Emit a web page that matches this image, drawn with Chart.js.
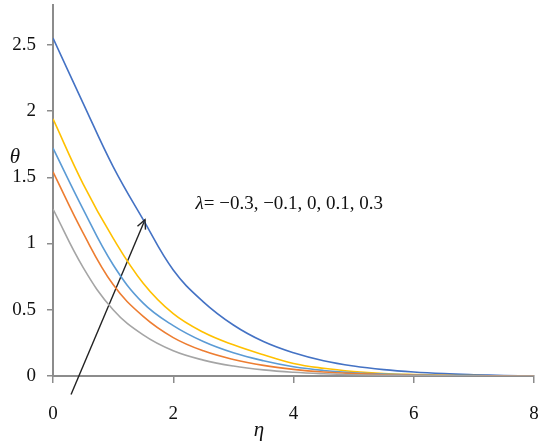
<!DOCTYPE html>
<html>
<head>
<meta charset="utf-8">
<script src="https://cdn.jsdelivr.net/npm/chart.js@4.4.0/dist/chart.umd.min.js"></script>
<style>
  body { margin: 0; background: #fff; }
  #wrap { width: 550px; height: 448px; }
</style>
</head>
<body>
<div id="wrap"><canvas id="thetaChart" width="550" height="448"></canvas></div>
<script>
// Temperature profiles theta(eta) for several lambda values
const eta = [0, 0.5, 1, 1.5, 2, 2.5, 3, 3.5, 4, 4.5, 5, 5.5, 6, 6.5, 7, 7.5, 8];
const thetaGray   = [1.26, 0.82, 0.50, 0.31, 0.19, 0.12, 0.075, 0.046, 0.028, 0.017, 0.01, 0.006, 0.004, 0.002, 0.001, 0, 0];
const thetaOrange = [1.54, 1.08, 0.69, 0.45, 0.29, 0.19, 0.125, 0.08, 0.05, 0.03, 0.018, 0.01, 0.006, 0.003, 0.002, 0.001, 0];
const thetaLtBlue = [1.72, 1.26, 0.84, 0.55, 0.38, 0.26, 0.175, 0.115, 0.07, 0.042, 0.025, 0.014, 0.008, 0.004, 0.002, 0.001, 0];
const thetaYellow = [1.94, 1.45, 1.04, 0.70, 0.47, 0.33, 0.235, 0.16, 0.095, 0.058, 0.034, 0.019, 0.011, 0.006, 0.003, 0.001, 0];
const thetaBlue   = [2.55, 2.06, 1.58, 1.18, 0.80, 0.56, 0.385, 0.26, 0.175, 0.115, 0.075, 0.048, 0.03, 0.018, 0.01, 0.004, 0];

const xTicks = [0, 2, 4, 6, 8];
const yTicks = [0, 0.5, 1, 1.5, 2, 2.5];

// arrow showing increasing lambda
const arrowStart = [0.3, -0.14];
const arrowEnd = [1.53, 1.18];
const lambdaLabel = 'λ= −0.3, −0.1, 0, 0.1, 0.3';
const lambdaAt = [2.37, 1.30];

const serif = '"Liberation Serif", "DejaVu Serif", serif';

function series(values) {
    return values.map((v, i) => ({ x: eta[i], y: v }));
}

function curve(values, color) {
    return {
        data: series(values),
        borderColor: color,
        borderWidth: 1.6,
        pointRadius: 0,
        fill: false,
        tension: 0.4
    };
}

// no extra room for the end labels, chart area goes edge to edge
function noPad(scale) {
    scale.paddingTop = 0;
    scale.paddingBottom = 0;
    scale.paddingLeft = 0;
    scale.paddingRight = 0;
}

// draws arrowhead and text labels
const annotations = {
    id: 'annotations',
    afterDatasetsDraw(chart) {
        const ctx = chart.ctx;
        const xs = chart.scales.x;
        const ys = chart.scales.y;

        const x0 = xs.getPixelForValue(arrowStart[0]);
        const y0 = ys.getPixelForValue(arrowStart[1]);
        const x1 = xs.getPixelForValue(arrowEnd[0]);
        const y1 = ys.getPixelForValue(arrowEnd[1]);
        const ang = Math.atan2(y1 - y0, x1 - x0);
        const len = 10;
        ctx.save();
        ctx.strokeStyle = '#222';
        ctx.lineWidth = 1.4;
        ctx.beginPath();
        ctx.moveTo(x1 - len * Math.cos(ang - 0.45), y1 - len * Math.sin(ang - 0.45));
        ctx.lineTo(x1, y1);
        ctx.lineTo(x1 - len * Math.cos(ang + 0.45), y1 - len * Math.sin(ang + 0.45));
        ctx.stroke();

        ctx.fillStyle = '#111';
        ctx.textBaseline = 'middle';
        ctx.textAlign = 'left';
        const lx = xs.getPixelForValue(lambdaAt[0]);
        const ly = ys.getPixelForValue(lambdaAt[1]);
        ctx.font = 'italic 19px ' + serif;
        ctx.fillText('λ', lx, ly);
        const lw = ctx.measureText('λ').width;
        ctx.font = '19px ' + serif;
        ctx.fillText(lambdaLabel.slice(1), lx + lw, ly);

        // axis titles
        ctx.font = 'italic 21px ' + serif;
        ctx.textAlign = 'center';
        ctx.fillText('θ', 15, 157);
        ctx.fillText('η', 259, 430);
        ctx.restore();
    }
};

const ctx = document.getElementById('thetaChart');
new Chart(ctx.getContext('2d'), {
    type: 'line',
    data: {
        datasets: [
            curve(thetaGray, '#A5A5A5'),
            curve(thetaOrange, '#ED7D31'),
            curve(thetaLtBlue, '#5B9BD5'),
            curve(thetaYellow, '#FFC000'),
            curve(thetaBlue, '#4472C4'),
            {
                data: [
                    { x: arrowStart[0], y: arrowStart[1] },
                    { x: arrowEnd[0], y: arrowEnd[1] }
                ],
                borderColor: '#222',
                borderWidth: 1.4,
                pointRadius: 0,
                tension: 0,
                clip: false
            }
        ]
    },
    options: {
        responsive: false,
        animation: false,
        layout: {
            padding: { left: 0, right: 16, top: 5, bottom: 0 }
        },
        plugins: {
            legend: { display: false },
            tooltip: { enabled: false }
        },
        scales: {
            x: {
                type: 'linear',
                min: 0,
                max: 8,
                afterBuildTicks: (scale) => {
                    scale.ticks = xTicks.map(v => ({ value: v }));
                },
                afterFit: (scale) => { scale.height = 72; noPad(scale); },
                border: { color: '#8c8c8c', width: 2 },
                grid: { drawOnChartArea: false, color: '#8c8c8c', tickLength: 7, lineWidth: 1.5 },
                ticks: {
                    color: '#111',
                    font: { family: serif, size: 19 },
                    padding: 20,
                    maxRotation: 0,
                    callback: (v) => String(v)
                }
            },
            y: {
                type: 'linear',
                min: 0,
                max: 2.8,
                afterBuildTicks: (scale) => {
                    scale.ticks = yTicks.map(v => ({ value: v }));
                },
                afterFit: (scale) => { scale.width = 53; noPad(scale); },
                border: { color: '#8c8c8c', width: 2 },
                grid: { drawOnChartArea: false, color: '#8c8c8c', tickLength: 6, lineWidth: 1.5 },
                ticks: {
                    color: '#111',
                    font: { family: serif, size: 19 },
                    padding: 11,
                    callback: (v) => String(v)
                }
            }
        }
    },
    plugins: [annotations]
});
</script>
</body>
</html>
